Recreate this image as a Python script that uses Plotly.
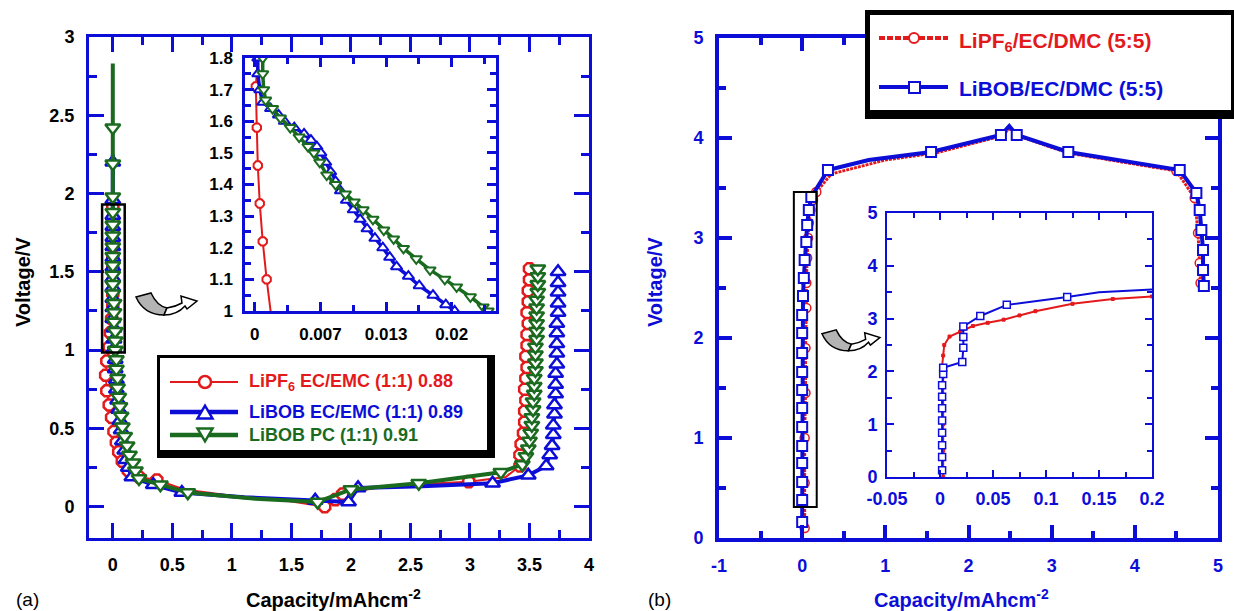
import plotly.graph_objects as go

W, H = 1234, 611
FONT = "Liberation Sans, Arial, Helvetica, sans-serif"
BLUE = "#0d0dd8"
RED = "#e31a1c"
GREEN = "#1a6b1f"

# ---------------- panel (a): first cycle, capacity (mAh/cm2) vs voltage (V)
lipf6_cap = [0.00, 0.00, 0.00, 0.00, 0.00, 0.00, 0.00, 0.00, 0.00, -0.01, -0.02, -0.03,
             -0.05, -0.06, -0.05, -0.03, -0.01, 0.01, 0.03, 0.05, 0.08, 0.13, 0.22, 0.37,
             0.60, 1.00, 1.45, 1.78, 1.87, 1.93, 2.20, 2.60, 2.99, 3.30, 3.42, 3.42,
             3.43, 3.45, 3.46, 3.46, 3.47, 3.46, 3.47, 3.48, 3.47, 3.48, 3.48, 3.49,
             3.48, 3.49, 3.49, 3.50, 3.50]
lipf6_volt = [1.92, 1.84, 1.76, 1.68, 1.60, 1.52, 1.44, 1.36, 1.28, 1.20, 1.11, 1.02,
              0.93, 0.84, 0.74, 0.65, 0.57, 0.48, 0.41, 0.35, 0.29, 0.23, 0.19, 0.17,
              0.11, 0.07, 0.04, 0.00, 0.045, 0.08, 0.12, 0.145, 0.16, 0.19, 0.26, 0.33,
              0.40, 0.47, 0.54, 0.61, 0.68, 0.75, 0.82, 0.89, 0.96, 1.03, 1.10, 1.17,
              1.24, 1.31, 1.38, 1.45, 1.52]

libob_ec_cap = [0.00, 0.00, 0.00, 0.00, 0.00, 0.00, 0.00, 0.00, 0.00, 0.00, 0.00, 0.00,
                0.00, 0.00, 0.01, 0.01, 0.01, 0.02, 0.02, 0.03, 0.03, 0.04, 0.05, 0.06,
                0.07, 0.08, 0.10, 0.11, 0.13, 0.16, 0.34, 0.58, 1.10, 1.70, 1.98, 2.06,
                2.60, 3.19, 3.49, 3.64, 3.67, 3.69, 3.70, 3.70, 3.71, 3.71, 3.72, 3.72,
                3.72, 3.73, 3.73, 3.73, 3.73, 3.73, 3.74, 3.74, 3.74, 3.74, 3.74]
libob_ec_volt = [2.25, 2.20, 1.96, 1.86, 1.79, 1.72, 1.66, 1.59, 1.53, 1.46, 1.40, 1.33,
                 1.27, 1.20, 1.14, 1.07, 1.01, 0.94, 0.88, 0.81, 0.75, 0.68, 0.62, 0.55,
                 0.49, 0.42, 0.36, 0.30, 0.25, 0.19, 0.14, 0.09, 0.06, 0.04, 0.03, 0.12,
                 0.13, 0.15, 0.20, 0.26, 0.33, 0.39, 0.46, 0.52, 0.59, 0.65, 0.72, 0.78,
                 0.85, 0.91, 0.98, 1.04, 1.11, 1.17, 1.24, 1.30, 1.37, 1.43, 1.50]

libob_pc_cap = [0.00, 0.00, 0.00, 0.00, 0.00, 0.00, 0.00, 0.00, 0.00, 0.00, 0.00, 0.00,
                0.00, 0.01, 0.01, 0.01, 0.02, 0.02, 0.02, 0.03, 0.03, 0.04, 0.04, 0.05,
                0.06, 0.07, 0.08, 0.10, 0.12, 0.14, 0.17, 0.19, 0.22, 0.40, 0.63, 1.20,
                1.72, 2.00, 2.57, 3.26, 3.44, 3.47, 3.49, 3.50, 3.51, 3.52, 3.52, 3.53,
                3.53, 3.54, 3.54, 3.54, 3.55, 3.55, 3.55, 3.55, 3.56, 3.56, 3.56, 3.56,
                3.56, 3.56, 3.57, 3.57, 3.57, 3.57]
libob_pc_volt = [2.83, 2.42, 2.19, 1.98, 1.88, 1.80, 1.73, 1.66, 1.60, 1.54, 1.48, 1.42,
                 1.36, 1.30, 1.24, 1.18, 1.12, 1.06, 1.00, 0.94, 0.88, 0.82, 0.76, 0.70,
                 0.64, 0.58, 0.51, 0.45, 0.39, 0.33, 0.28, 0.23, 0.18, 0.14, 0.09, 0.05,
                 0.03, 0.11, 0.15, 0.22, 0.27, 0.32, 0.37, 0.42, 0.47, 0.52, 0.57, 0.62,
                 0.67, 0.72, 0.77, 0.82, 0.87, 0.92, 0.97, 1.02, 1.07, 1.12, 1.17, 1.22,
                 1.27, 1.32, 1.37, 1.42, 1.47, 1.52]

# panel (a) inset: onset of lithiation between 1.8 V and 1.0 V
zoom_lipf6_cap = [0.0003, 0.0001, 0.0002, 0.0003, 0.0005, 0.0008, 0.0012, 0.0016]
zoom_lipf6_volt = [1.80, 1.71, 1.58, 1.46, 1.34, 1.22, 1.10, 1.00]

zoom_libob_ec_cap = [0.0003, 0.0003, 0.0005, 0.0008, 0.0016, 0.0024, 0.0030, 0.0040,
                     0.0050, 0.0057, 0.0063, 0.0067, 0.0072, 0.0077, 0.0082, 0.0087,
                     0.0093, 0.0100, 0.0107, 0.0114, 0.0122, 0.0130, 0.0137, 0.0144,
                     0.0156, 0.0167, 0.0181, 0.0194, 0.0203]
zoom_libob_ec_volt = [1.80, 1.75, 1.70, 1.66, 1.64, 1.62, 1.60, 1.58, 1.56, 1.54, 1.52,
                      1.50, 1.47, 1.44, 1.41, 1.38, 1.35, 1.32, 1.29, 1.26, 1.23, 1.20,
                      1.17, 1.14, 1.11, 1.08, 1.05, 1.02, 1.00]

zoom_libob_pc_cap = [0.0008, 0.0008, 0.0009, 0.0011, 0.0018, 0.0026, 0.0036, 0.0045,
                     0.0054, 0.0060, 0.0066, 0.0073, 0.0082, 0.0092, 0.0101, 0.0110,
                     0.0120, 0.0131, 0.0141, 0.0151, 0.0164, 0.0178, 0.0193, 0.0205,
                     0.0219, 0.0232, 0.0237]
zoom_libob_pc_volt = [1.80, 1.75, 1.70, 1.667, 1.64, 1.61, 1.58, 1.55, 1.52, 1.50, 1.47,
                      1.43, 1.40, 1.37, 1.345, 1.32, 1.29, 1.256, 1.228, 1.198, 1.165,
                      1.13, 1.10, 1.076, 1.045, 1.013, 1.00]

zoom_a_tickvals = [0, 0.02 / 3, 0.04 / 3, 0.02]
zoom_a_ticktext = ["0", "0.007", "0.013", "0.02"]

# ---------------- panel (b): cathode cycle in two electrolytes
b_lipf6_cap = [0.03, 0.03, 0.03, 0.04, 0.04, 0.05, 0.05, 0.06, 0.07, 0.08, 0.10, 0.13,
               0.17, 0.35, 1.00, 1.60, 2.40, 2.50, 2.60, 3.20, 4.50, 4.72, 4.76, 4.78,
               4.79]
b_lipf6_volt = [0.10, 0.55, 1.00, 1.45, 1.90, 2.30, 2.55, 2.80, 3.00, 3.15, 3.28, 3.38,
                3.46, 3.64, 3.78, 3.85, 4.02, 4.10, 4.02, 3.85, 3.67, 3.40, 3.05, 2.75,
                2.55]

b_libob_cap = [0.00, 0.00, 0.00, 0.00, 0.00, 0.00, 0.00, 0.00, 0.00, 0.00, 0.00, 0.00,
               0.01, 0.02, 0.03, 0.05, 0.06, 0.08, 0.11, 0.31, 0.80, 1.55, 2.39, 2.49,
               2.58, 3.20, 4.54, 4.74, 4.78, 4.80, 4.82, 4.82, 4.83]
b_libob_volt = [0.16, 0.38, 0.56, 0.75, 0.92, 1.11, 1.30, 1.48, 1.66, 1.85, 2.05, 2.23,
                2.42, 2.60, 2.78, 2.96, 3.13, 3.28, 3.41, 3.68, 3.78, 3.86, 4.03, 4.12,
                4.03, 3.86, 3.68, 3.45, 3.28, 3.08, 2.88, 2.68, 2.52]

b_tickvals = [-1, 0, 1, 2, 3, 4, 5]
b_ticktext = ["-1", "0", "1", "2", "3", "4", "5"]

# panel (b) inset: start of charge
zoom_b_lipf6_cap = [0.003, 0.003, 0.003, 0.003, 0.003, 0.002, 0.003, 0.004, 0.009,
                    0.019, 0.031, 0.045, 0.060, 0.075, 0.090, 0.125, 0.163, 0.200]
zoom_b_lipf6_volt = [0.00, 0.50, 1.00, 1.50, 2.00, 2.10, 2.30, 2.50, 2.66, 2.75, 2.86,
                     2.92, 2.98, 3.06, 3.14, 3.28, 3.37, 3.42]

zoom_b_libob_cap = [0.002, 0.002, 0.002, 0.002, 0.002, 0.002, 0.002, 0.002, 0.003,
                    0.003, 0.021, 0.022, 0.022, 0.022, 0.038, 0.063, 0.120, 0.150, 0.200]
zoom_b_libob_volt = [0.13, 0.38, 0.60, 0.84, 1.07, 1.30, 1.52, 1.74, 1.95, 2.07, 2.18,
                     2.45, 2.65, 2.85, 3.05, 3.26, 3.41, 3.50, 3.55]

zoom_b_tickvals = [-0.05, 0, 0.05, 0.1, 0.15, 0.2]
zoom_b_ticktext = ["-0.05", "0", "0.05", "0.1", "0.15", "0.2"]

a_legend = ["LiPF<sub>6</sub> EC/EMC (1:1) 0.88", "LiBOB EC/EMC (1:1) 0.89",
            "LiBOB PC (1:1) 0.91"]
b_legend = ["LiPF<sub>6</sub>/EC/DMC (5:5)", "LiBOB/EC/DMC (5:5)"]


def px(x):
    return x / W


def py(y):
    return 1 - y / H


fig = go.Figure()


def series(xs, ys, xa, ya, color, lw, symbol, msize, mlw, plain=(), dash="solid",
           fill="white"):
    fig.add_trace(go.Scatter(x=xs, y=ys, mode="lines", xaxis=xa, yaxis=ya,
                             line=dict(color=color, width=lw, dash=dash),
                             hoverinfo="skip"))
    mx = [x for i, x in enumerate(xs) if i not in plain]
    my = [y for i, y in enumerate(ys) if i not in plain]
    fig.add_trace(go.Scatter(x=mx, y=my, mode="markers", xaxis=xa, yaxis=ya,
                             marker=dict(symbol=symbol, size=msize, color=fill,
                                         line=dict(color=color, width=mlw)),
                             hoverinfo="skip"))


# panel (a) main
series(lipf6_cap, lipf6_volt, "x", "y", RED, 2, "octagon", 12, 2.5,
       plain={24, 25, 26, 30, 31, 33})
series(libob_ec_cap, libob_ec_volt, "x", "y", BLUE, 4, "triangle-up", 13, 2.5,
       plain={0, 32, 36})
series(libob_pc_cap, libob_pc_volt, "x", "y", GREEN, 4, "triangle-down", 13, 2.5,
       plain={0, 35})
# panel (a) inset
series(zoom_lipf6_cap, zoom_lipf6_volt, "x2", "y2", RED, 2, "octagon", 9, 2,
       plain={0, 7})
series(zoom_libob_ec_cap, zoom_libob_ec_volt, "x2", "y2", BLUE, 3.5, "triangle-up", 10, 2)
series(zoom_libob_pc_cap, zoom_libob_pc_volt, "x2", "y2", GREEN, 3.5, "triangle-down", 10, 2)
# panel (b) main
series(b_lipf6_cap, b_lipf6_volt, "x3", "y3", RED, 3, "circle", 9, 1.5, dash="3px,1px",
       plain={13, 14, 15, 16, 17, 18, 19})
series(b_libob_cap, b_libob_volt, "x3", "y3", BLUE, 4, "square", 10, 2, plain={20, 23})
# panel (b) inset
series(zoom_b_lipf6_cap, zoom_b_lipf6_volt, "x4", "y4", RED, 2, "square", 3, 1,
       fill=RED)
series(zoom_b_libob_cap, zoom_b_libob_volt, "x4", "y4", BLUE, 2, "square", 7, 1.5,
       plain={17, 18})


def axis(dom, rng, color, lw, tlen, mlen, tw, labcol, size, anchor, standoff,
         **kw):
    d = dict(domain=dom, range=rng, anchor=anchor, showline=True, linecolor=color,
             linewidth=lw, mirror="ticks", ticks="inside", ticklen=tlen,
             tickwidth=tw, tickcolor=color, showgrid=False, zeroline=False,
             ticklabelstandoff=standoff,
             tickfont=dict(family=FONT, size=size, color=labcol, weight="bold"))
    d.update(kw)
    d["minor"] = dict(ticks="inside", ticklen=mlen, tickwidth=tw, tickcolor=color,
                      showgrid=False, tickmode="linear", **d.pop("minor_opts", {}))
    return d


fig.update_layout(
    xaxis=axis([px(89), px(589)], [-0.2, 4.0], BLUE, 3, 15, 8, 3, "black", 18, "y", 8,
               tick0=0, dtick=0.5, minor_opts=dict(tick0=0, dtick=0.25)),
    yaxis=axis([py(538), py(37)], [-0.2, 3.0], BLUE, 3, 15, 8, 3, "black", 18, "x", 8,
               tick0=0, dtick=0.5, minor_opts=dict(tick0=0, dtick=0.25)),
    xaxis2=axis([px(245), px(496)], [-0.001, 0.0245], BLUE, 2.5, 9, 6, 2.5, "black", 17,
                "y2", 6, tickmode="array", tickvals=zoom_a_tickvals,
                ticktext=zoom_a_ticktext, minor_opts=dict(tick0=0, dtick=0.01 / 3)),
    yaxis2=axis([py(311), py(58)], [1.0, 1.8], BLUE, 2.5, 9, 6, 2.5, "black", 17,
                "x2", 6, tick0=1, dtick=0.1, minor_opts=dict(tick0=1, dtick=0.05)),
    xaxis3=axis([px(719), px(1218)], [-1, 5], BLUE, 4, 13, 7, 4, BLUE, 18, "y3", 8,
                tickmode="array", tickvals=b_tickvals, ticktext=b_ticktext,
                minor_opts=dict(tick0=0, dtick=0.5)),
    yaxis3=axis([py(538), py(38)], [0, 5], BLUE, 4, 13, 7, 4, BLUE, 18, "x3", 8,
                tick0=0, dtick=1, minor_opts=dict(tick0=0, dtick=0.5)),
    xaxis4=axis([px(887), px(1152)], [-0.05, 0.2], BLUE, 2, 7, 5, 2, BLUE, 18, "y4", 4,
                tickmode="array", tickvals=zoom_b_tickvals, ticktext=zoom_b_ticktext,
                minor_opts=dict(tick0=0, dtick=0.025)),
    yaxis4=axis([py(477), py(213)], [0, 5], BLUE, 2, 7, 5, 2, BLUE, 18, "x4", 4,
                tick0=0, dtick=1, minor_opts=dict(tick0=0, dtick=0.5)),
)

shapes = []
ann = []

# zoom windows marked on the main plots
shapes.append(dict(type="rect", xref="x", yref="y", x0=-0.09, x1=0.10, y0=0.985,
                   y1=1.93, line=dict(color="black", width=2.5), layer="above"))
shapes.append(dict(type="rect", xref="x3", yref="y3", x0=-0.10, x1=0.175, y0=0.31,
                   y1=3.46, line=dict(color="black", width=2), layer="above"))


# curved "zoom" arrows
def arrow(ox, oy, s):
    def P(x, y):
        return f"{px(ox + s * x):.5f},{py(oy + s * y):.5f}"
    tail = (f"M {P(1, 6)} L {P(16, 2)} Q {P(22, 15)} {P(32, 17)} L {P(29, 24)} "
            f"Q {P(9, 24)} {P(1, 6)} Z")
    head = (f"M {P(32, 17)} Q {P(40, 16)} {P(47, 12)} L {P(46, 5)} L {P(62, 10)} "
            f"L {P(52, 18)} L {P(50, 15)} Q {P(42, 24)} {P(29, 24)} Z")
    shapes.append(dict(type="path", xref="paper", yref="paper", path=tail,
                       fillcolor="#b4b4b4", line=dict(color="black", width=1.5),
                       layer="above"))
    shapes.append(dict(type="path", xref="paper", yref="paper", path=head,
                       fillcolor="white", line=dict(color="black", width=1.5),
                       layer="above"))


arrow(135, 291, 1.0)
arrow(821, 328, 0.95)


def rect_px(x0, y0, x1, y1, fill, line=None):
    shapes.append(dict(type="rect", xref="paper", yref="paper", x0=px(x0), x1=px(x1),
                       y0=py(y1), y1=py(y0), fillcolor=fill, layer="above",
                       line=line or dict(width=0)))


def line_px(x0, x1, y, color, width, dash="solid"):
    shapes.append(dict(type="line", xref="paper", yref="paper", x0=px(x0), x1=px(x1),
                       y0=py(y), y1=py(y), line=dict(color=color, width=width, dash=dash),
                       layer="above"))


def tri_px(cx, cy, half, up, color):
    h = half * 1.7
    if up:
        pts = [(cx - half, cy + h / 2), (cx + half, cy + h / 2), (cx, cy - h / 2)]
    else:
        pts = [(cx - half, cy - h / 2), (cx + half, cy - h / 2), (cx, cy + h / 2)]
    path = "M " + " L ".join(f"{px(a):.5f},{py(b):.5f}" for a, b in pts) + " Z"
    shapes.append(dict(type="path", xref="paper", yref="paper", path=path,
                       fillcolor="white", line=dict(color=color, width=2.5),
                       layer="above"))


# legend of panel (a): box with drop shadow
rect_px(157, 355, 495, 458, "black")
rect_px(160, 358, 487, 450, "white")
a_rows = [(382, RED, 2), (412, BLUE, 4.5), (435, GREEN, 4.5)]
for (yy, col, w), label in zip(a_rows, a_legend):
    line_px(170, 238, yy, col, w)
    ann.append(dict(text=label, x=px(247), y=py(yy), xanchor="left", yanchor="middle",
                    font=dict(family=FONT, size=18, color=col, weight="bold")))
shapes.append(dict(type="circle", xref="paper", yref="paper", x0=px(199), x1=px(211),
                   y0=py(388), y1=py(376), fillcolor="white",
                   line=dict(color=RED, width=2.5), layer="above"))
tri_px(205, 412, 7.5, True, BLUE)
tri_px(205, 435, 7.5, False, GREEN)

# legend of panel (b)
rect_px(865, 10, 1240, 119, "black")
rect_px(870, 15, 1231, 110, "white")
line_px(879, 948, 38, RED, 4, dash="6px,2px")
shapes.append(dict(type="circle", xref="paper", yref="paper", x0=px(909), x1=px(919),
                   y0=py(43), y1=py(33), fillcolor="white",
                   line=dict(color=RED, width=2), layer="above"))
line_px(879, 948, 87, BLUE, 4)
rect_px(909, 82, 920, 93, "white", dict(color=BLUE, width=2))
for yy, col, label in zip([42, 89], [RED, BLUE], b_legend):
    ann.append(dict(text=label, x=px(957), y=py(yy), xanchor="left", yanchor="middle",
                    font=dict(family=FONT, size=21, color=col, weight="bold")))

# axis titles and panel letters
title_font_a = dict(family=FONT, size=20, color="black", weight="bold")
title_font_b = dict(family=FONT, size=20, color=BLUE, weight="bold")
ann += [
    dict(text="Voltage/V", x=px(23), y=py(282), textangle=-90, font=title_font_a,
         xanchor="center", yanchor="middle"),
    dict(text="Capacity/mAhcm<sup>-2</sup>", x=px(333), y=py(598), font=title_font_a,
         xanchor="center", yanchor="middle"),
    dict(text="Voltage/V", x=px(655), y=py(282), textangle=-90, font=title_font_b,
         xanchor="center", yanchor="middle"),
    dict(text="Capacity/mAhcm<sup>-2</sup>", x=px(962), y=py(598), font=title_font_b,
         xanchor="center", yanchor="middle"),
    dict(text="(a)", x=px(27), y=py(599), font=dict(family=FONT, size=19, color="black"),
         xanchor="center", yanchor="middle"),
    dict(text="(b)", x=px(660), y=py(599), font=dict(family=FONT, size=19, color="black"),
         xanchor="center", yanchor="middle"),
]
for a in ann:
    a.update(xref="paper", yref="paper", showarrow=False)

fig.update_layout(
    width=W, height=H,
    margin=dict(l=0, r=0, t=0, b=0, pad=0, autoexpand=False),
    paper_bgcolor="white", plot_bgcolor="rgba(0,0,0,0)", showlegend=False,
    shapes=shapes, annotations=ann,
)

fig.write_html("out.html")
